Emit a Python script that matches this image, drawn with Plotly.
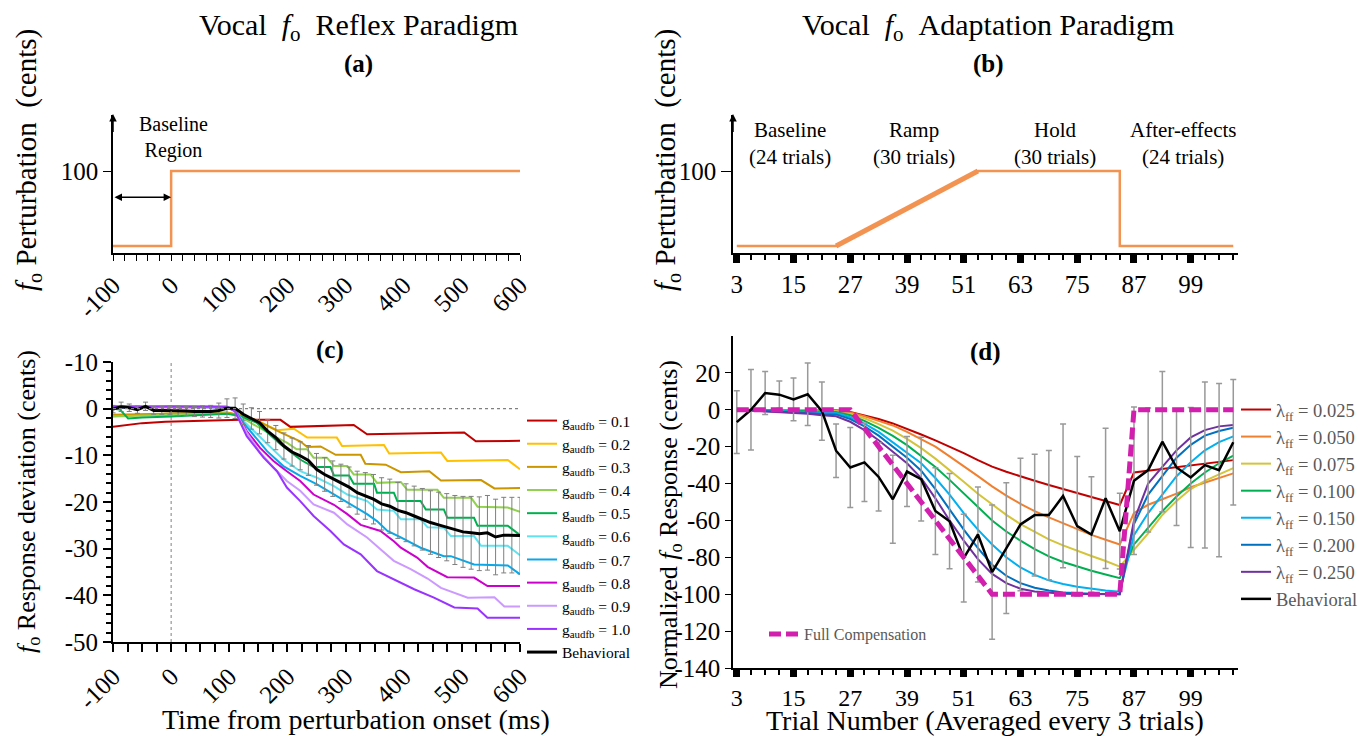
import plotly.graph_objects as go

# Page offset of the figure inside the browser (default body margin)
OFF = 8
W, H = 1369 - OFF, 736 - OFF
FONT = "Liberation Serif"

# ---------------- Panel (a): reflex paradigm ----------------
a_time = [-100, 0, 0, 600]
a_pert = [0, 0, 100, 100]
a_ticks = [-100, 0, 100, 200, 300, 400, 500, 600]
a_ticktext = ["-100", "0", "100", "200", "300", "400", "500", "600"]

# ---------------- Panel (b): adaptation paradigm ----------------
b_trial = [3, 24, 54, 84, 84, 108]
b_pert = [0, 0, 100, 100, 0, 0]
b_phase_name = ["Baseline", "Ramp", "Hold", "After-effects"]
b_phase_count = ["(24 trials)", "(30 trials)", "(30 trials)", "(24 trials)"]
b_phase_edges = [3, 25.6, 55.3, 85.2, 109.4]
b_ticks = [3, 15, 27, 39, 51, 63, 75, 87, 99]

# ---------------- Panel (c): reflex model vs behaviour ----------------
c_labels = ["0.1", "0.2", "0.3", "0.4", "0.5", "0.6", "0.7", "0.8", "0.9", "1.0"]
c_colors = ["#C00000", "#FFC000", "#CC9600", "#92D050", "#00B050",
            "#5FE3F0", "#0AA8E8", "#CC00CC", "#CC99FF", "#9933FF"]
c_x = [
    [-100, -50, -10, 50, 120, 188, 205, 314, 337, 504, 524, 600],
    [-100, -10, 96, 118, 147, 182, 211, 234, 285, 294, 366, 375, 464, 475, 579, 600],
    [-100, -10, 96, 118, 147, 188, 222, 234, 257, 283, 326, 334, 369, 395, 444, 464, 533, 556, 600],
    [-100, -10, 96, 118, 142, 182, 199, 216, 234, 245, 268, 280, 303, 314, 343, 354, 395, 406, 458, 469, 516, 527, 579, 600],
    [-100, -88, -74, -50, 0, 96, 118, 147, 188, 222, 245, 274, 280, 306, 314, 349, 354, 383, 389, 429, 438, 469, 475, 521, 527, 579, 600],
    [-100, 0, 96, 110, 124, 165, 193, 222, 251, 280, 303, 337, 354, 383, 395, 429, 441, 469, 481, 521, 533, 579, 600],
    [-100, 0, 96, 110, 124, 165, 193, 222, 251, 280, 303, 337, 354, 372, 395, 429, 469, 481, 521, 579, 600],
    [-100, 96, 110, 130, 153, 176, 199, 222, 245, 280, 303, 326, 360, 383, 395, 423, 441, 475, 521, 544, 600],
    [-100, 96, 110, 130, 153, 176, 199, 222, 245, 280, 303, 337, 360, 383, 412, 441, 464, 510, 556, 573, 600],
    [-100, 96, 110, 130, 159, 182, 199, 222, 245, 274, 297, 326, 354, 383, 418, 452, 487, 527, 544, 600],
]
c_y = [
    [-3.9, -3.1, -2.8, -2.6, -2.4, -2.4, -3.9, -3.5, -5.5, -5.1, -7.0, -6.9],
    [-1.6, -1.1, -0.9, -1.5, -2.5, -4.6, -4.3, -6.2, -6.2, -8.0, -7.8, -9.6, -9.4, -11.2, -11.0, -13.0],
    [-1.3, -1.0, -0.8, -1.3, -2.5, -5.1, -7.0, -8.2, -8.1, -9.9, -9.9, -11.8, -12.0, -13.6, -13.4, -15.4, -15.3, -17.1, -17.0],
    [-1.7, -1.4, -1.0, -1.6, -3.4, -6.2, -7.3, -8.7, -8.7, -10.5, -10.5, -12.3, -12.3, -14.1, -14.1, -15.9, -15.7, -17.4, -17.4, -19.1, -19.1, -21.0, -21.2, -22.1],
    [0.0, -0.2, -2.1, -1.9, -1.7, -1.1, -1.5, -3.0, -7.6, -10.9, -12.5, -12.5, -14.3, -14.3, -16.1, -16.1, -18.0, -18.0, -19.8, -19.8, -21.6, -21.6, -23.4, -23.4, -25.1, -25.1, -27.1],
    [0.3, 0.4, 0.2, -0.3, -2.6, -7.6, -10.9, -13.4, -14.8, -16.6, -18.4, -19.8, -21.6, -21.9, -23.7, -23.7, -25.4, -25.5, -27.3, -27.3, -29.4, -29.4, -31.4],
    [0.2, 0.5, 0.4, -0.2, -3.0, -9.1, -12.3, -14.4, -16.2, -18.4, -20.1, -22.6, -24.1, -26.2, -27.6, -29.8, -31.6, -31.6, -33.4, -33.6, -35.5],
    [0.3, 0.3, -0.5, -4.8, -8.4, -11.2, -13.4, -15.5, -18.4, -20.6, -22.6, -24.9, -26.2, -28.4, -29.8, -31.9, -33.9, -36.1, -36.2, -38.0, -38.0],
    [0.4, 0.4, -0.5, -5.1, -9.4, -12.6, -15.5, -17.6, -20.5, -22.3, -24.8, -27.6, -30.1, -32.6, -34.4, -36.4, -38.4, -40.5, -40.4, -42.4, -42.4],
    [0.5, 0.4, -0.6, -5.9, -10.5, -13.4, -16.9, -19.8, -23.0, -26.2, -29.1, -31.2, -34.8, -36.6, -38.7, -40.5, -42.6, -42.8, -44.8, -44.8],
]
c_beh_x = [-100, -86, -72, -58, -44, -30, -16, -2, 12, 26, 40, 54, 68, 82, 96, 110, 124, 138,
           152, 166, 180, 194, 208, 222, 236, 250, 264, 278, 292, 306, 320, 334, 348, 362,
           376, 390, 404, 418, 432, 446, 460, 474, 488, 502, 516, 530, 544, 558, 572, 586, 600]
c_beh_y = [-0.1, 0.4, 0.2, -0.2, 0.5, -0.4, -0.4, -0.4, -0.5, -0.5, -0.6, -0.6, -0.6, -0.4,
           0.1, 0.1, -1.2, -2.1, -3.0, -4.8, -6.2, -8.0, -9.3, -10.1, -11.1, -13.0, -14.1,
           -15.0, -15.9, -16.8, -18.0, -18.7, -19.4, -20.4, -20.9, -21.8, -22.3, -23.0,
           -23.7, -24.4, -24.9, -25.4, -26.0, -26.4, -26.6, -26.8, -26.6, -27.5, -27.1, -27.1, -27.2]
c_beh_err = [0.8, 1.0, 0.8, 0.8, 0.9, 0.8, 0.8, 0.9, 1.0, 1.0, 1.1, 1.2, 1.3, 1.6,
             2.0, 2.2, 2.2, 2.3, 2.4, 2.5, 2.6, 2.8, 3.0, 3.0, 3.2, 3.4, 3.6, 3.8, 4.0, 4.3,
             4.6, 5.0, 5.3, 5.6, 5.8, 6.0, 6.2, 6.4, 6.6, 6.8, 7.0, 7.2, 7.4, 7.6, 7.8, 7.9,
             8.0, 8.1, 8.1, 8.1, 8.2]
c_yticks = [10, 0, -10, -20, -30, -40, -50]
c_yticktext = ["-10", "0", "-10", "-20", "-30", "-40", "-50"]

# ---------------- Panel (d): adaptation model vs behaviour ----------------
d_trials = [3, 6, 9, 12, 15, 18, 21, 24, 27, 30, 33, 36, 39, 42, 45, 48, 51, 54,
            57, 60, 63, 66, 69, 72, 75, 78, 81, 84, 87, 90, 93, 96, 99, 102, 105, 108]
d_labels = ["0.025", "0.050", "0.075", "0.100", "0.150", "0.200", "0.250"]
d_colors = ["#C00000", "#F08030", "#D4C43A", "#00B050", "#00B0F0", "#0070C0", "#7030A0"]
d_model = [
    [0, 0, 0, 0, 0, 0, 0,
     -0.3, -1.2, -2.9, -5.0, -7.4, -10.3, -13.4, -16.6, -19.9, -23.5, -27.3, -30.8, -33.6,
     -36.2, -38.5, -40.8, -42.9, -45.2, -47.2, -49.3, -51.6,
     -34, -33, -32.2, -31, -30, -29, -28.2, -27.3],
    [0, 0, 0, 0, 0, -0.1, -0.2,
     -0.4, -1.5, -3.5, -6.0, -8.5, -12.0, -15.8, -20.0, -25.3, -30.5, -36.0, -41.5, -46.5,
     -51.0, -55.0, -58.3, -61.5, -64.8, -67.8, -70.5, -73.0,
     -56, -51.5, -48.5, -45.5, -42, -39.5, -37, -34.5],
    [0, 0, 0, -0.1, -0.2, -0.3, -0.5,
     -0.8, -2.2, -4.6, -7.8, -11.3, -15.8, -20.8, -26.5, -32.5, -39.0, -45.5, -51.5, -57.0,
     -62.0, -66.3, -70.3, -73.5, -76.5, -79.3, -82.0, -85.0,
     -76, -67, -57, -49.5, -43, -38.5, -35, -31.6],
    [0, 0, -0.2, -0.3, -0.5, -0.7, -1.0,
     -1.2, -3.0, -6.0, -9.8, -14.2, -19.2, -25.0, -31.0, -38.0, -45.5, -53.0, -60.0, -66.0,
     -71.0, -75.5, -79.5, -82.5, -85.0, -87.3, -89.3, -91.3,
     -73, -64, -55, -47, -40, -34, -29, -24.9],
    [0, -0.2, -0.4, -0.6, -0.9, -1.2, -1.6,
     -1.8, -4.0, -7.5, -12.0, -17.5, -23.0, -29.0, -37.0, -46.0, -56.0, -65.0, -73.0, -80.0,
     -85.5, -89.5, -92.5, -94.5, -96.0, -97.2, -98.0, -98.7,
     -68, -56, -46, -36, -28.5, -22, -17.5, -14.4],
    [0, -0.3, -0.6, -0.9, -1.3, -1.7, -2.3,
     -2.5, -5.0, -9.0, -14.0, -20.0, -26.0, -33.0, -43.0, -54.0, -65.0, -75.0, -84.0, -90.0,
     -94.0, -96.5, -98.0, -99.0, -99.5, -99.8, -99.9, -100.0,
     -62, -46, -36, -26, -19, -14, -11.5, -9.8],
    [0, -0.4, -0.8, -1.2, -1.7, -2.2, -2.9,
     -3.5, -6.5, -11.0, -16.5, -23.0, -29.0, -37.0, -48.0, -60.0, -71.0, -81.0, -89.0, -94.0,
     -97.0, -98.5, -99.3, -99.7, -99.9, -100.0, -100.0, -100.0,
     -60, -40, -31, -22, -15, -11, -9, -8.2],
]
d_beh = [-6.7, 0, 9.1, 8.2, 5.6, 8.4, -0.7, -22.2, -31.3, -28.5, -36.4, -48.5, -33.5, -37.6,
         -54.9, -60.4, -80.4, -67.6, -88, -75, -62.2, -57.1, -57.1, -46.7, -63.1, -67.6, -48,
         -65.8, -38.5, -32.7, -17.3, -31.3, -36.7, -30, -32.7, -17.6]
d_beh_err = [17, 21.8, 11.6, 7.4, 11.6, 16.9, 15.8, 14.5, 21.7, 21.2, 18.5, 23.8, 19, 22.7,
             23.5, 25.8, 23.8, 25.8, 36.4, 35.5, 35.9, 33, 35, 39, 37.8, 31.3, 38, 20.5, 40,
             33.6, 38, 31.5, 38, 45, 47, 34]
d_full = [0, 0, 0, 0, 0, 0, 0, 0, 0, -10, -20, -30, -40, -50, -60, -70, -80, -90, -100,
          -100, -100, -100, -100, -100, -100, -100, -100, -100, 0, 0, 0, 0, 0, 0, 0, 0]
d_yticks = [20, 0, -20, -40, -60, -80, -100, -120, -140]
d_yticktext = ["20", "0", "-20", "-40", "-60", "-80", "-100", "-120", "-140"]

ORANGE = "#F39352"
GRAY_TXT = "#595959"

fig = go.Figure()

# panel a
fig.add_trace(go.Scatter(x=a_time, y=a_pert, mode="lines", line=dict(color=ORANGE, width=2.5),
                         xaxis="x", yaxis="y", showlegend=False))
# panel b
fig.add_trace(go.Scatter(x=b_trial, y=b_pert, mode="lines", line=dict(color=ORANGE, width=2.5),
                         xaxis="x2", yaxis="y2", showlegend=False))
fig.add_trace(go.Scatter(x=b_trial[1:3], y=b_pert[1:3], mode="lines", line=dict(color=ORANGE, width=5),
                         xaxis="x2", yaxis="y2", showlegend=False))

# panel c
for lab, col, xs, ys in zip(c_labels, c_colors, c_x, c_y):
    fig.add_trace(go.Scatter(x=xs, y=ys, mode="lines", line=dict(color=col, width=2),
                             name="g<sub>audfb</sub> = " + lab, xaxis="x3", yaxis="y3",
                             legend="legend"))
fig.add_trace(go.Scatter(x=c_beh_x, y=c_beh_y, mode="lines", line=dict(color="black", width=3),
                         error_y=dict(type="data", array=c_beh_err, color="#7F7F7F", thickness=1, width=2.5),
                         name="Behavioral", xaxis="x3", yaxis="y3", legend="legend"))

# panel d
for lab, col, ys in zip(d_labels, d_colors, d_model):
    fig.add_trace(go.Scatter(x=d_trials, y=ys, mode="lines", line=dict(color=col, width=2),
                             name="λ<sub>ff</sub> = " + lab, xaxis="x4", yaxis="y4",
                             legend="legend2"))
fig.add_trace(go.Scatter(x=d_trials, y=d_beh, mode="lines", line=dict(color="black", width=2.5),
                         error_y=dict(type="data", array=d_beh_err, color="#999999", thickness=1.5, width=3),
                         name="Behavioral", xaxis="x4", yaxis="y4", legend="legend2"))
fig.add_trace(go.Scatter(x=d_trials, y=d_full, mode="lines",
                         line=dict(color="#D21FAE", width=5, dash="12px,5px"),
                         name="Full Compensation", xaxis="x4", yaxis="y4", legend="legend3"))


def px(v):
    return (v - OFF) / W


def py(v):
    return 1 - (v - OFF) / H


ax_common = dict(showline=True, linecolor="black", linewidth=1.5, showgrid=False, zeroline=False,
                 automargin=False, ticks="outside", tickcolor="black",
                 tickfont=dict(family=FONT, size=25, color="black"))

xa_dom = [px(113), px(520)]
xb_dom = [px(733), px(1238)]

fig.update_layout(
    template="none",
    width=W, height=H, margin=dict(l=0, r=0, t=0, b=0, pad=0, autoexpand=False),
    paper_bgcolor="white", plot_bgcolor="white",
    font=dict(family=FONT, color="black"),
    xaxis=dict(ax_common, domain=xa_dom, range=[-100, 600], anchor="y",
               tickmode="array", tickvals=a_ticks, ticktext=a_ticktext, tickangle=-45, ticklen=6,
               minor=dict(tickmode="linear", tick0=-100, dtick=20, ticklen=6, ticks="outside",
                          tickcolor="black")),
    yaxis=dict(ax_common, domain=[py(253), py(115)], range=[-9.3, 174.7], anchor="x",
               tickmode="array", tickvals=[100], ticktext=["100"], ticklen=8),
    xaxis2=dict(ax_common, domain=xb_dom, range=[2.2, 109], anchor="y2", linewidth=2,
                tickmode="array", tickvals=b_ticks, ticktext=[str(t) for t in b_ticks],
                ticklen=8, tickwidth=7,
                minor=dict(tickmode="linear", tick0=3, dtick=3, ticklen=5, tickwidth=2,
                           ticks="outside", tickcolor="black")),
    yaxis2=dict(ax_common, domain=[py(253), py(115)], range=[-9.3, 174.7], anchor="x2",
                tickmode="array", tickvals=[100], ticktext=["100"], ticklen=10),
    xaxis3=dict(ax_common, domain=xa_dom, range=[-100, 600], anchor="y3", linewidth=2,
                tickmode="array", tickvals=a_ticks, ticktext=a_ticktext, tickangle=-45, ticklen=8,
                tickwidth=2,
                minor=dict(tickmode="linear", tick0=-100, dtick=25, ticklen=8, tickwidth=2,
                           ticks="outside", tickcolor="black")),
    yaxis3=dict(ax_common, domain=[py(642), py(362)], range=[-50, 10], anchor="x3", linewidth=2,
                tickmode="array", tickvals=c_yticks, ticktext=c_yticktext, ticklen=8, tickwidth=2,
                minor=dict(tickmode="linear", tick0=0, dtick=2, ticklen=5, tickwidth=1.5,
                           ticks="outside", tickcolor="black")),
    xaxis4=dict(ax_common, domain=xb_dom, range=[2.2, 109], anchor="y4", linewidth=2,
                tickmode="array", tickvals=b_ticks, ticktext=[str(t) for t in b_ticks],
                ticklen=7, tickwidth=7, tickfont=dict(family=FONT, size=24, color="black"),
                minor=dict(tickmode="linear", tick0=3, dtick=3, ticklen=5, tickwidth=2,
                           ticks="outside", tickcolor="black")),
    yaxis4=dict(ax_common, domain=[py(668), py(336)], range=[-140, 40], anchor="x4",
                tickmode="array", tickvals=d_yticks, ticktext=d_yticktext, ticklen=6),
    legend=dict(x=px(522), y=py(404), xanchor="left", yanchor="top", bgcolor="rgba(0,0,0,0)",
                font=dict(family=FONT, size=15.5, color="black"), tracegroupgap=0, itemwidth=30),
    legend2=dict(x=px(1236), y=py(391), xanchor="left", yanchor="top", bgcolor="rgba(0,0,0,0)",
                 font=dict(family=FONT, size=18.5, color=GRAY_TXT), tracegroupgap=0, itemwidth=30),
    legend3=dict(x=px(764), y=py(617), xanchor="left", yanchor="top", bgcolor="rgba(0,0,0,0)",
                 font=dict(family=FONT, size=16, color=GRAY_TXT), itemwidth=30),
    shapes=[
        dict(type="line", xref="x3", yref="y3", x0=0, x1=0, y0=-50, y1=10,
             line=dict(color="#808080", width=1, dash="dot")),
        dict(type="line", xref="x3", yref="y3", x0=-100, x1=600, y0=0, y1=0,
             line=dict(color="#808080", width=1.2, dash="dot")),
    ],
)

NB = "\u00a0"
ann = []


def text(x, y, s, size, color="black", angle=0, **kw):
    d = dict(x=x, y=y, xref="paper", yref="paper", text=s, showarrow=False, textangle=angle,
             font=dict(family=FONT, size=size, color=color), xanchor="center", yanchor="middle")
    d.update(kw)
    ann.append(d)


F0 = "<i>f</i><sub>o</sub>"
text(px(358), py(27), "Vocal" + NB * 2 + F0 + NB * 2 + "Reflex Paradigm", 30)
text(px(358), py(64), "<b>(a)</b>", 25)
text(px(988), py(27), "Vocal" + NB * 2 + F0 + NB * 2 + "Adaptation Paradigm", 30)
text(px(988), py(64), "<b>(b)</b>", 25)
text(px(330), py(350), "<b>(c)</b>", 25)
text(px(985), py(352), "<b>(d)</b>", 25)
text(px(28), py(160), F0 + " Perturbation" + NB * 2 + "(cents)", 29, angle=-90)
text(px(667), py(160), F0 + " Perturbation" + NB * 2 + "(cents)", 29, angle=-90)
text(px(28), py(502), F0 + " Response deviation (cents)", 26, angle=-90)
text(px(670), py(525), "Normalized " + F0 + " Response (cents)", 26, angle=-90)
text(px(356), py(719), "Time from perturbation onset (ms)", 28)
text(px(985), py(720), "Trial Number (Averaged every 3 trials)", 28)
text(px(173), py(137), "Baseline<br>Region", 20)

# arrows panel a
ann.append(dict(xref="x", yref="y", axref="x", ayref="y", x=0, y=65, ax=-100, ay=65, text="",
                showarrow=True, arrowhead=2, arrowside="end+start", arrowsize=1, arrowwidth=1.5,
                arrowcolor="black"))
ann.append(dict(xref="x", yref="y", axref="x", ayref="y", x=-100, y=176, ax=-100, ay=150, text="",
                showarrow=True, arrowhead=2, arrowsize=1, arrowwidth=1.5, arrowcolor="black"))
ann.append(dict(xref="x2", yref="y2", axref="x2", ayref="y2", x=2.2, y=176, ax=2.2, ay=150, text="",
                showarrow=True, arrowhead=2, arrowsize=1, arrowwidth=1.5, arrowcolor="black"))
# phase arrows and labels panel b
for i in range(4):
    x0, x1 = b_phase_edges[i], b_phase_edges[i + 1]
    ann.append(dict(xref="x2", yref="y2", axref="x2", ayref="y2", x=x1 - 0.3, y=181, ax=x0 + 0.3,
                    ay=181, text="", showarrow=True, arrowhead=2, arrowside="end+start",
                    arrowsize=1, arrowwidth=1.5, arrowcolor="black"))
    ann.append(dict(xref="x2", yref="y2", x=(x0 + x1) / 2, y=137,
                    text=b_phase_name[i] + "<br>" + b_phase_count[i], showarrow=False,
                    font=dict(family=FONT, size=21, color="black")))

fig.update_layout(annotations=ann)
fig.write_html("out.html")
